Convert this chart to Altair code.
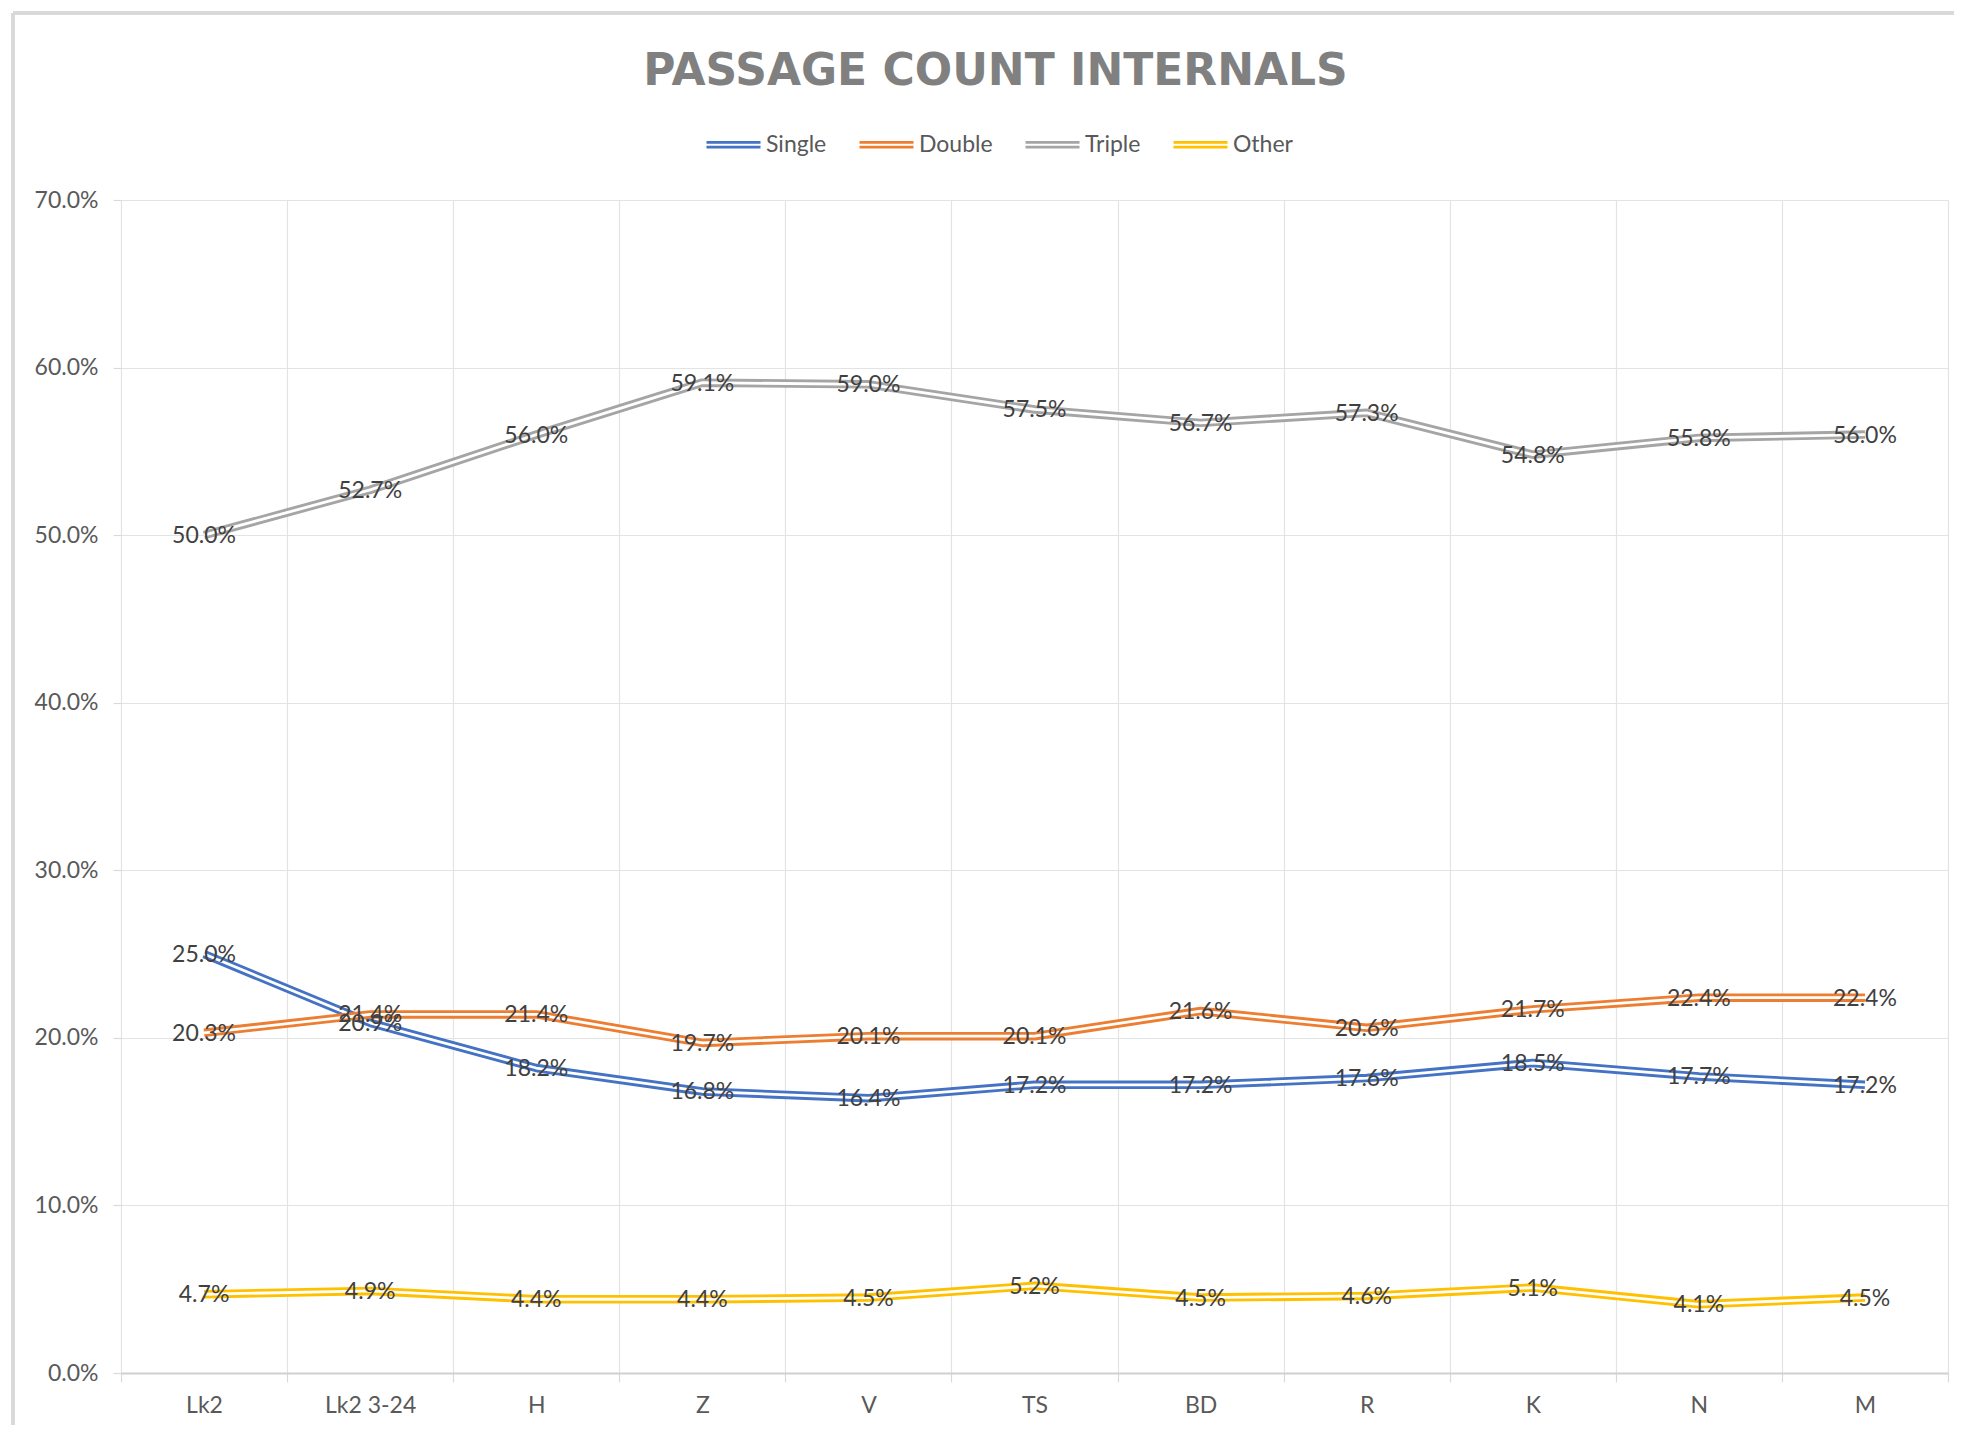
import altair as alt
import pandas as pd

categories = ["Lk2", "Lk2 3-24", "H", "Z", "V", "TS", "BD", "R", "K", "N", "M"]
series_names = ["Single", "Double", "Triple", "Other"]
series_colors = ["#4472C4", "#ED7D31", "#A5A5A5", "#FFC000"]
single = [25.0, 20.9, 18.2, 16.8, 16.4, 17.2, 17.2, 17.6, 18.5, 17.7, 17.2]
double = [20.3, 21.4, 21.4, 19.7, 20.1, 20.1, 21.6, 20.6, 21.7, 22.4, 22.4]
triple = [50.0, 52.7, 56.0, 59.1, 59.0, 57.5, 56.7, 57.3, 54.8, 55.8, 56.0]
other = [4.7, 4.9, 4.4, 4.4, 4.5, 5.2, 4.5, 4.6, 5.1, 4.1, 4.5]
y_ticks = [0.0, 0.1, 0.2, 0.3, 0.4, 0.5, 0.6, 0.7]

rows = []
for name, vals in zip(series_names, [single, double, triple, other]):
    for c, v in zip(categories, vals):
        rows.append({"cat": c, "series": name, "value": v / 100.0})
df = pd.DataFrame(rows)

FONT = "Lato"

x_enc = alt.X(
    "cat:N",
    sort=categories,
    bandPosition=0.5,
    scale=alt.Scale(type="band", paddingInner=0, paddingOuter=0),
    axis=alt.Axis(
        title=None, labelAngle=0, tickBand="extent", grid=True,
        gridColor="#e3e3e3", gridWidth=1.2, tickColor="#d9d9d9", tickSize=9,
        tickWidth=1.2, domainColor="#d0d0d0", domainWidth=2,
        labelFont=FONT, labelFontSize=23, labelColor="#595959", labelPadding=12,
    ),
)
y_enc = alt.Y(
    "value:Q",
    scale=alt.Scale(domain=[0, 0.7], nice=False, zero=True),
    axis=alt.Axis(
        title=None, values=y_ticks, format=".1%", domain=False, grid=True,
        gridColor="#e3e3e3", gridWidth=1.2, tickColor="#d9d9d9", tickSize=8,
        tickWidth=1.2, labelFont=FONT, labelFontSize=23, labelColor="#595959",
        labelPadding=15,
    ),
)
color_enc = alt.Color(
    "series:N",
    sort=series_names,
    scale=alt.Scale(domain=series_names, range=series_colors),
    legend=alt.Legend(
        title=None, orient="none", direction="horizontal", legendX=584, legendY=-84,
        symbolType="M-1,-0.09H1M-1,0.09H1", symbolSize=2916, symbolStrokeWidth=2.8,
        labelFont=FONT, labelFontSize=23, labelColor="#595959", labelOffset=4,
        columnPadding=26,
    ),
)

layers = []
for name in series_names:
    sub = alt.Chart(df).transform_filter(alt.datum.series == name)
    layers.append(
        sub.mark_line(strokeWidth=8.5, strokeJoin="round").encode(
            x=x_enc, y=y_enc, color=color_enc
        )
    )
    layers.append(
        sub.mark_line(strokeWidth=2.8, strokeJoin="round", color="white").encode(
            x=x_enc, y=y_enc
        )
    )

labels = alt.Chart(df).mark_text(
    font=FONT, fontSize=23, color="#404040", baseline="middle", align="center", dy=1
).encode(x=x_enc, y=y_enc, text=alt.Text("value:Q", format=".1%"))

border_v = alt.Chart(df).mark_rule(color="#d9d9d9", strokeWidth=3).encode(
    x=alt.value(-108), y=alt.value(-187), y2=alt.value(1240)
)
border_h = alt.Chart(df).mark_rule(color="#d9d9d9", strokeWidth=3).encode(
    x=alt.value(-108), x2=alt.value(1850), y=alt.value(-187)
)

chart = alt.layer(border_v, border_h, *layers, labels).properties(
    width=1827,
    height=1173,
    autosize=alt.AutoSizeParams(type="none"),
    padding={"left": 113, "top": 192, "right": 6, "bottom": 52},
    title=alt.TitleParams(
        "PASSAGE COUNT INTERNALS", font="DejaVu Sans", fontSize=44, fontWeight="bold",
        color="#808080", anchor="middle", frame="group", dx=-39, offset=-117,
        baseline="alphabetic",
    ),
).configure_view(stroke=None)

chart.save("out.html", embed_options={"renderer": "svg", "actions": False})
